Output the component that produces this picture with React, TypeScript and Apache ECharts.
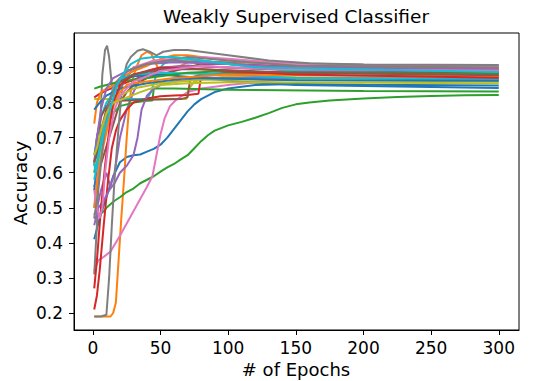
import React, { useEffect, useRef } from "react";
import * as echarts from "echarts";

const TAB10 = ["#1f77b4", "#ff7f0e", "#2ca02c", "#d62728", "#9467bd", "#8c564b", "#e377c2", "#7f7f7f", "#bcbd22", "#17becf"];
const X_TICKS = [0, 50, 100, 150, 200, 250, 300];
const Y_TICKS = [0.2, 0.3, 0.4, 0.5, 0.6, 0.7, 0.8, 0.9];
const TITLE = "Weakly Supervised Classifier";
const X_NAME = "# of Epochs";
const Y_NAME = "Accuracy";

// each run: [epoch, accuracy]
const blue1 = [[1,0.41],[5,0.47],[10,0.53],[15,0.59],[20,0.63],[25,0.645],[30,0.65],[35,0.652],[40,0.66],[45,0.668],[50,0.68],[55,0.7],[60,0.725],[65,0.75],[70,0.775],[75,0.795],[80,0.81],[90,0.83],[100,0.84],[120,0.85],[150,0.853],[200,0.851],[300,0.849]];
const orange1 = [[1,0.19],[8,0.19],[13,0.19],[15,0.2],[17,0.23],[19,0.35],[21,0.47],[23,0.58],[25,0.7],[27,0.8],[29,0.86],[32,0.9],[36,0.935],[40,0.945],[43,0.94],[46,0.915],[50,0.885],[55,0.88],[62,0.9],[70,0.915],[80,0.92],[100,0.91],[150,0.9],[300,0.893]];
const green1 = [[1,0.47],[3,0.475],[5,0.48],[8,0.49],[10,0.5],[13,0.51],[16,0.52],[20,0.53],[25,0.545],[30,0.555],[35,0.57],[40,0.58],[45,0.59],[50,0.603],[55,0.615],[60,0.625],[65,0.638],[70,0.65],[75,0.67],[80,0.69],[85,0.707],[90,0.72],[100,0.735],[110,0.745],[120,0.757],[130,0.77],[140,0.785],[150,0.795],[160,0.8],[175,0.806],[200,0.812],[225,0.816],[250,0.819],[275,0.821],[300,0.822]];
const red1 = [[1,0.815],[5,0.825],[10,0.835],[20,0.85],[30,0.865],[40,0.88],[55,0.9],[70,0.905],[100,0.9],[150,0.892],[300,0.889]];
const purple1 = [[1,0.48],[3,0.5],[6,0.55],[10,0.6],[13,0.56],[16,0.6],[20,0.7],[25,0.78],[30,0.83],[35,0.87],[40,0.89],[50,0.9],[70,0.905],[100,0.9],[150,0.893],[300,0.888]];
const brown1 = [[1,0.56],[4,0.6],[8,0.65],[12,0.7],[16,0.75],[20,0.8],[25,0.83],[30,0.85],[40,0.87],[60,0.89],[80,0.91],[100,0.91],[150,0.903],[300,0.898]];
const pink1 = [[1,0.32],[4,0.35],[8,0.36],[13,0.375],[20,0.42],[25,0.455],[30,0.49],[35,0.525],[40,0.56],[44,0.59],[47,0.65],[50,0.71],[53,0.755],[57,0.79],[61,0.806],[70,0.83],[80,0.84],[100,0.85],[130,0.862],[170,0.87],[300,0.874]];
const gray1 = [[1,0.31],[3,0.45],[5,0.7],[7,0.88],[9,0.95],[10.5,0.962],[12,0.93],[14,0.85],[16,0.81],[20,0.84],[30,0.9],[50,0.92],[100,0.915],[200,0.908],[300,0.905]];
const olive1 = [[1,0.81],[3,0.81],[40,0.81],[69,0.81],[71,0.84],[75,0.86],[80,0.865],[100,0.875],[150,0.872],[300,0.869]];
const cyan1 = [[1,0.65],[3,0.7],[6,0.76],[10,0.8],[12,0.81],[40,0.81],[43,0.83],[47,0.88],[52,0.91],[60,0.925],[70,0.925],[100,0.91],[150,0.89],[300,0.879]];

const blue2 = [[1,0.55],[3,0.62],[8,0.72],[12,0.8],[16,0.84],[20,0.86],[30,0.875],[50,0.88],[80,0.87],[100,0.862],[150,0.85],[300,0.842]];
const orange2 = [[1,0.74],[3,0.8],[6,0.83],[10,0.84],[15,0.85],[20,0.87],[30,0.89],[40,0.905],[50,0.925],[60,0.935],[70,0.935],[80,0.93],[100,0.92],[150,0.905],[300,0.897]];
const green2 = [[1,0.6],[3,0.65],[6,0.7],[10,0.74],[15,0.77],[20,0.79],[30,0.8],[40,0.805],[44,0.806],[45,0.84],[60,0.84],[100,0.837],[200,0.833],[300,0.832]];
const red2 = [[1,0.21],[3,0.25],[5,0.32],[8,0.45],[11,0.57],[14,0.67],[17,0.72],[20,0.75],[25,0.78],[30,0.8],[40,0.812],[50,0.818],[60,0.82],[70,0.822],[78,0.825],[80,0.875],[90,0.88],[100,0.883],[150,0.885],[300,0.884]];
const purple2 = [[1,0.45],[4,0.5],[8,0.52],[12,0.55],[16,0.57],[20,0.6],[25,0.62],[30,0.65],[33,0.7],[36,0.78],[40,0.82],[45,0.84],[50,0.85],[60,0.86],[80,0.87],[120,0.87],[300,0.868]];
const brown2 = [[1,0.62],[3,0.7],[6,0.76],[10,0.79],[15,0.8],[20,0.805],[40,0.808],[65,0.81],[70,0.815],[72,0.87],[80,0.88],[100,0.885],[150,0.886],[300,0.885]];
const pink2 = [[1,0.5],[3,0.58],[6,0.66],[9,0.74],[12,0.8],[15,0.84],[20,0.87],[30,0.9],[45,0.92],[60,0.925],[80,0.93],[100,0.925],[150,0.91],[300,0.903]];
const gray2 = [[1,0.19],[6,0.19],[10,0.195],[12,0.3],[14,0.45],[16,0.58],[19,0.73],[22,0.86],[25,0.91],[28,0.93],[33,0.948],[37,0.952],[42,0.945],[47,0.935],[52,0.945],[60,0.95],[70,0.95],[80,0.945],[100,0.935],[130,0.92],[160,0.912],[200,0.909],[300,0.907]];
const olive2 = [[1,0.62],[3,0.64],[5,0.63],[8,0.7],[12,0.76],[16,0.8],[20,0.82],[30,0.84],[50,0.855],[80,0.865],[120,0.865],[300,0.86]];
const cyan2 = [[1,0.63],[2,0.6],[4,0.65],[7,0.72],[10,0.78],[14,0.83],[18,0.86],[22,0.87],[30,0.88],[50,0.885],[100,0.88],[150,0.87],[300,0.865]];

const blue3 = [[1,0.78],[5,0.8],[10,0.82],[20,0.84],[40,0.855],[70,0.87],[100,0.868],[150,0.864],[300,0.862]];
const orange3 = [[1,0.5],[4,0.6],[8,0.68],[12,0.75],[16,0.8],[20,0.83],[25,0.85],[30,0.855],[40,0.86],[60,0.87],[100,0.88],[150,0.878],[300,0.876]];
const green3 = [[1,0.84],[5,0.845],[10,0.85],[20,0.86],[30,0.865],[50,0.875],[70,0.885],[100,0.89],[150,0.885],[300,0.881]];
const red3 = [[1,0.27],[3,0.35],[6,0.5],[9,0.62],[12,0.72],[15,0.8],[20,0.85],[30,0.88],[50,0.9],[80,0.895],[150,0.88],[300,0.871]];
const purple3 = [[1,0.63],[3,0.7],[6,0.78],[10,0.84],[15,0.87],[25,0.89],[40,0.91],[60,0.915],[100,0.91],[150,0.9],[300,0.895]];
const brown3 = [[1,0.63],[3,0.66],[6,0.72],[10,0.78],[15,0.83],[20,0.86],[30,0.88],[50,0.895],[80,0.895],[150,0.885],[300,0.878]];
const pink3 = [[1,0.55],[3,0.5],[5,0.47],[7,0.5],[9,0.6],[12,0.7],[16,0.78],[20,0.82],[30,0.86],[50,0.89],[80,0.905],[100,0.9],[150,0.895],[300,0.891]];
const gray3 = [[1,0.47],[4,0.55],[8,0.7],[12,0.8],[18,0.86],[25,0.89],[40,0.91],[70,0.93],[100,0.92],[150,0.905],[300,0.9]];
const olive3 = [[1,0.65],[3,0.67],[6,0.72],[10,0.77],[15,0.8],[22,0.81],[35,0.83],[50,0.85],[70,0.855],[100,0.858],[300,0.855]];
const cyan3 = [[1,0.58],[3,0.62],[6,0.68],[10,0.74],[14,0.8],[18,0.85],[22,0.88],[28,0.91],[35,0.925],[45,0.93],[60,0.93],[80,0.92],[120,0.9],[300,0.887]];

const RUNS = [
  blue1, orange1, green1, red1, purple1, brown1, pink1, gray1, olive1, cyan1,
  blue2, orange2, green2, red2, purple2, brown2, pink2, gray2, olive2, cyan2,
  blue3, orange3, green3, red3, purple3, brown3, pink3, gray3, olive3, cyan3,
];

const FONT = "DejaVu Sans";

export default function App() {
  const ref = useRef<HTMLDivElement>(null);
  useEffect(() => {
    if (!ref.current) return;
    const chart = echarts.init(ref.current, null, { renderer: "svg" });
    chart.setOption({
      animation: false,
      backgroundColor: "#fff",
      grid: { left: 74, right: 18, top: 33, bottom: 51, show: true, borderColor: "#000", borderWidth: 1, backgroundColor: "transparent" },
      xAxis: {
        type: "value",
        min: -13.95,
        max: 314.95,
        axisLine: { show: true, onZero: false, lineStyle: { color: "#000", width: 1 } },
        axisTick: { show: true, length: 5, customValues: X_TICKS, lineStyle: { color: "#000", width: 1 } },
        axisLabel: { customValues: X_TICKS, fontSize: 17, color: "#000", fontFamily: FONT, margin: 9 },
        splitLine: { show: false },
      },
      yAxis: {
        type: "value",
        min: 0.1515,
        max: 0.9985,
        axisLine: { show: true, onZero: false, lineStyle: { color: "#000", width: 1 } },
        axisTick: { show: true, length: 5, customValues: Y_TICKS, lineStyle: { color: "#000", width: 1 } },
        axisLabel: { customValues: Y_TICKS, fontSize: 17, color: "#000", fontFamily: FONT, margin: 11, formatter: (v: number) => v.toFixed(1) },
        splitLine: { show: false },
      },
      graphic: [
        { type: "text", x: 296, y: 7, style: { text: TITLE, fill: "#000", font: `18.5px "${FONT}"`, align: "center", verticalAlign: "top" } },
        { type: "text", x: 296, y: 360, style: { text: X_NAME, fill: "#000", font: `18px "${FONT}"`, align: "center", verticalAlign: "top" } },
        { type: "text", x: 20, y: 183, rotation: Math.PI / 2, style: { text: Y_NAME, fill: "#000", font: `18.5px "${FONT}"`, align: "center", verticalAlign: "middle" } },
      ],
      series: RUNS.map((d, i) => ({
        type: "line",
        data: d,
        showSymbol: false,
        symbol: "none",
        silent: true,
        clip: true,
        lineStyle: { width: 2, color: TAB10[i % 10] },
        itemStyle: { color: TAB10[i % 10] },
      })),
    });
    return () => chart.dispose();
  }, []);
  return <div ref={ref} style={{ position: "absolute", left: 0, top: 0, width: 537, height: 381 }} />;
}
